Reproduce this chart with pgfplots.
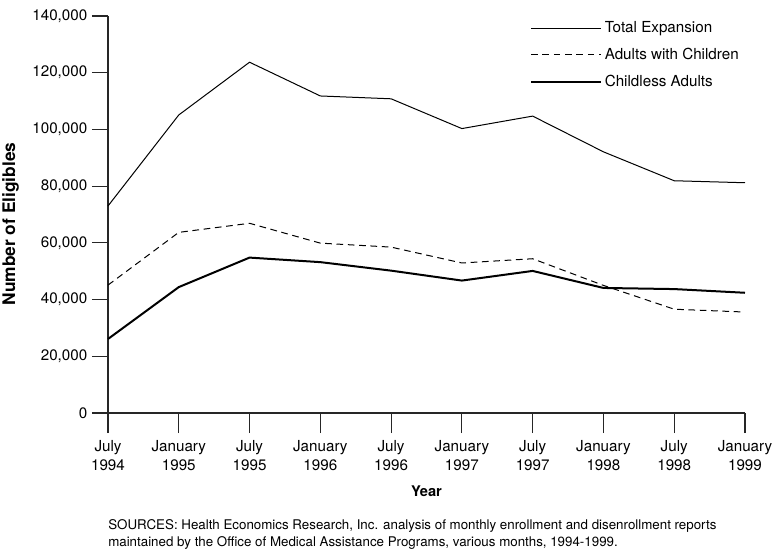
\documentclass[border=0pt]{standalone}
\usepackage{fontspec}
\setmainfont{TeX Gyre Heros}
\usepackage{pgfplots}
\usepackage{pgfplotstable}
\pgfplotsset{compat=1.18}
\pgfplotstableread{
x total adultschild childless
0 73000 45100 26100
1 105100 63700 44400
2 123700 66900 54800
3 111800 59900 53200
4 110800 58500 50200
5 100300 52900 46700
6 104700 54400 50100
7 92100 45000 44100
8 81900 36600 43700
9 81200 35600 42400
}\datatable
\begin{document}
\begin{tikzpicture}
\path[use as bounding box] (-81pt,-102.75pt) rectangle (502.5pt,309.75pt);
\begin{axis}[
  at={(0pt,0pt)}, anchor=origin,
  scale only axis,
  width=477.75pt, height=297.75pt,
  xmin=0, xmax=9, ymin=0, ymax=140000,
  axis x line*=bottom, axis y line*=left,
  axis line style={line width=0.8pt, draw=black!85},
  every tick/.style={line width=0.8pt, black!85},
  tick align=outside,
  major tick length=12pt,
  xtick style={/pgfplots/major tick length=15pt},
  xtick={0,...,9},
  xticklabels={{July\\1994},{January\\1995},{July\\1995},{January\\1996},{July\\1996},{January\\1997},{July\\1997},{January\\1998},{July\\1998},{January\\1999}},
  xticklabel style={align=center, font=\fontsize{11.4}{14}\selectfont, yshift=-5pt},
  ytick={0,20000,40000,60000,80000,100000,120000,140000},
  yticklabels={0,{20,000},{40,000},{60,000},{80,000},{100,000},{120,000},{140,000}},
  yticklabel style={font=\fontsize{11.4}{13}\selectfont},
  scaled y ticks=false,
  xlabel={\textbf{Year}},
  ylabel={\textbf{Number of Eligibles}},
  every axis x label/.style={at={(axis description cs:0.5,0)}, anchor=center, yshift=-58.3pt, font=\fontsize{11}{13}\selectfont},
  every axis y label/.style={at={(axis description cs:-0.1531,0.476)}, rotate=90, anchor=center, font=\fontsize{13}{15}\selectfont},
  legend style={draw=none, fill=none, at={(0.656,1)}, anchor=north west, font=\fontsize{11.4}{13}\selectfont, row sep=6.1pt},
  legend cell align=left,
  legend image code/.code={\draw[#1] (0pt,0pt) -- (52.5pt,0pt);},
  clip=false,
]
\addplot[black, line width=0.75pt] table[x=x, y=total] {\datatable};
\addlegendentry{Total Expansion}
\addplot[black, line width=0.75pt, dash pattern=on 5pt off 3.5pt] table[x=x, y=adultschild] {\datatable};
\addlegendentry{Adults with Children}
\addplot[black, line width=1.5pt] table[x=x, y=childless] {\datatable};
\addlegendentry{Childless Adults}
\end{axis}
\node[anchor=north west, align=left, font=\fontsize{10}{12.5}\selectfont, inner sep=0pt] at (0pt,-80pt) {SOURCES: Health Economics Research, Inc. analysis of monthly enrollment and disenrollment reports\\maintained by the Office of Medical Assistance Programs, various months, 1994-1999.};
\end{tikzpicture}
\end{document}
